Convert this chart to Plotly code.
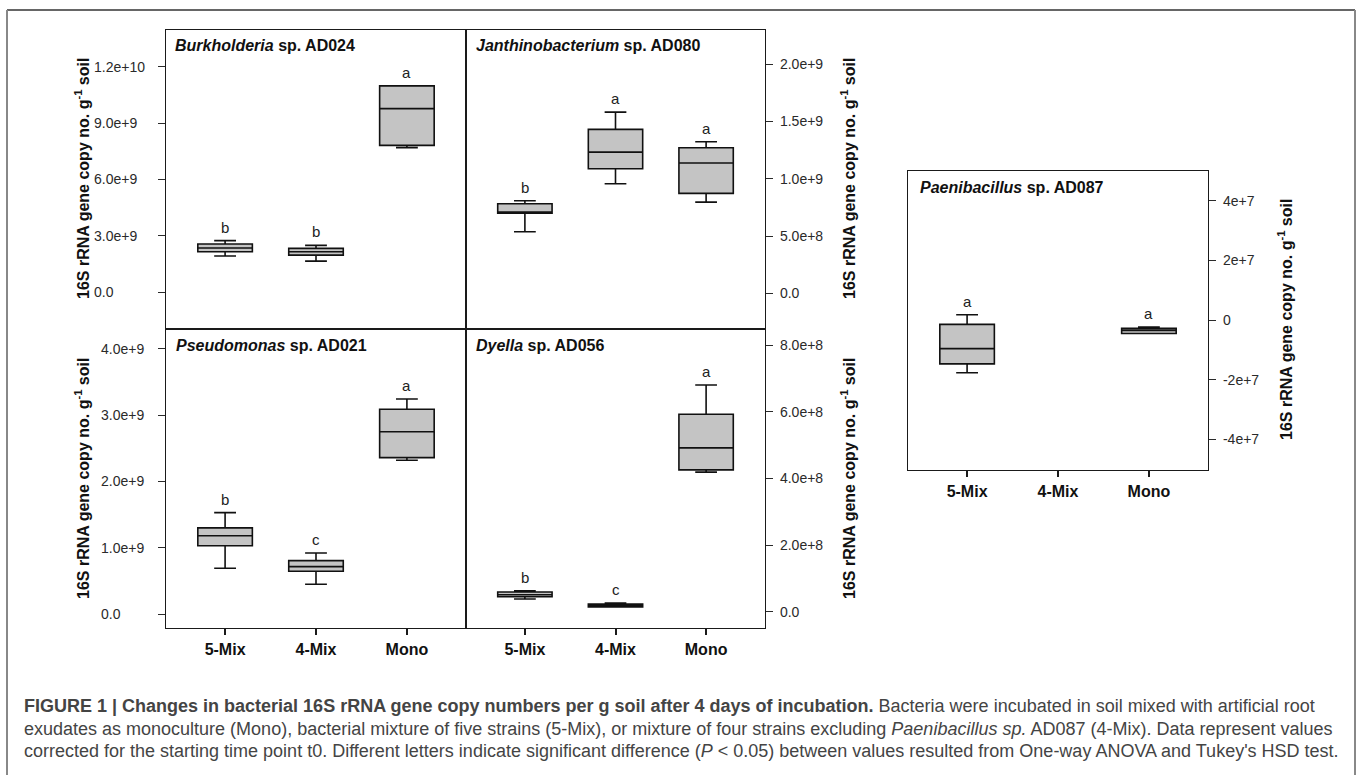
import plotly.graph_objects as go

# ---------------- data ----------------
cats = ["5-Mix", "4-Mix", "Mono"]

burk_lo = [1.92e9, 1.65e9, 7.70e9]
burk_q1 = [2.15e9, 1.97e9, 7.82e9]
burk_med = [2.35e9, 2.15e9, 9.78e9]
burk_q3 = [2.56e9, 2.33e9, 1.099e10]
burk_hi = [2.74e9, 2.49e9, 1.099e10]
burk_letters = ["b", "b", "a"]

jan_lo = [5.37e8, 9.56e8, 7.96e8]
jan_q1 = [6.98e8, 1.087e9, 8.72e8]
jan_med = [7.09e8, 1.232e9, 1.137e9]
jan_q3 = [7.81e8, 1.43e9, 1.27e9]
jan_hi = [8.08e8, 1.581e9, 1.322e9]
jan_letters = ["b", "a", "a"]

pse_lo = [6.9e8, 4.5e8, 2.32e9]
pse_q1 = [1.03e9, 6.45e8, 2.36e9]
pse_med = [1.18e9, 7.15e8, 2.75e9]
pse_q3 = [1.30e9, 8.05e8, 3.09e9]
pse_hi = [1.53e9, 9.2e8, 3.245e9]
pse_letters = ["b", "c", "a"]

dye_lo = [3.8e7, 1.4e7, 4.19e8]
dye_q1 = [4.5e7, 1.4e7, 4.26e8]
dye_med = [5.1e7, 1.9e7, 4.92e8]
dye_q3 = [5.9e7, 2.3e7, 5.93e8]
dye_hi = [6.3e7, 2.6e7, 6.81e8]
dye_letters = ["b", "c", "a"]

pae_cats = ["5-Mix", "Mono"]
pae_lo = [-1.77e7, -4.5e6]
pae_q1 = [-1.47e7, -4.5e6]
pae_med = [-9.6e6, -3.45e6]
pae_q3 = [-1.44e6, -2.8e6]
pae_hi = [1.78e6, -2.35e6]
pae_letters = ["a", "a"]

burk_ticks = [0, 3e9, 6e9, 9e9, 1.2e10]
burk_ticktext = ["0.0", "3.0e+9", "6.0e+9", "9.0e+9", "1.2e+10"]
jan_ticks = [0, 5e8, 1e9, 1.5e9, 2e9]
jan_ticktext = ["0.0", "5.0e+8", "1.0e+9", "1.5e+9", "2.0e+9"]
pse_ticks = [0, 1e9, 2e9, 3e9, 4e9]
pse_ticktext = ["0.0", "1.0e+9", "2.0e+9", "3.0e+9", "4.0e+9"]
dye_ticks = [0, 2e8, 4e8, 6e8, 8e8]
dye_ticktext = ["0.0", "2.0e+8", "4.0e+8", "6.0e+8", "8.0e+8"]
pae_ticks = [-4e7, -2e7, 0, 2e7, 4e7]
pae_ticktext = ["-4e+7", "-2e+7", "0", "2e+7", "4e+7"]

titles = ["<i>Burkholderia</i> sp. AD024", "<i>Janthinobacterium</i> sp. AD080",
          "<i>Pseudomonas</i> sp. AD021", "<i>Dyella</i> sp. AD056",
          "<i>Paenibacillus</i> sp. AD087"]
ytitle = "16S rRNA gene copy no. g<sup>-1</sup> soil"

caption_lines = [
    "<b>FIGURE 1 | Changes in bacterial 16S rRNA gene copy numbers per g soil after 4 days of incubation.</b> "
    "Bacteria were incubated in soil mixed with artificial root",
    "exudates as monoculture (Mono), bacterial mixture of five strains (5-Mix), or mixture of four strains "
    "excluding <i>Paenibacillus sp.</i> AD087 (4-Mix). Data represent values",
    "corrected for the starting time point t0. Different letters indicate significant difference "
    "(<i>P</i> &lt; 0.05) between values resulted from One-way ANOVA and Tukey's HSD test.",
]

# ---------------- layout helpers ----------------
W, H = 1358, 775
def px(x):
    return x / W
def py(y):
    return 1 - y / H

FONT = "Arial, Liberation Sans, Helvetica, sans-serif"
LINE = "#1a1a1a"
TICKC = "#2a2a2a"
XR = [-0.65, 2.65]

fig = go.Figure()

panels = [
    ("", cats, burk_lo, burk_q1, burk_med, burk_q3, burk_hi, burk_letters),
    ("2", cats, jan_lo, jan_q1, jan_med, jan_q3, jan_hi, jan_letters),
    ("3", cats, pse_lo, pse_q1, pse_med, pse_q3, pse_hi, pse_letters),
    ("4", cats, dye_lo, dye_q1, dye_med, dye_q3, dye_hi, dye_letters),
    ("5", pae_cats, pae_lo, pae_q1, pae_med, pae_q3, pae_hi, pae_letters),
]

annotations = []
for sfx, c, lo, q1, med, q3, hi, letters in panels:
    fig.add_trace(go.Box(
        x=c, lowerfence=lo, q1=q1, median=med, q3=q3, upperfence=hi,
        xaxis="x" + sfx, yaxis="y" + sfx,
        width=0.6, whiskerwidth=0.4,
        fillcolor="#c4c4c4", line=dict(color="#111111", width=1.6),
        boxpoints=False, showlegend=False, hoverinfo="skip",
    ))
    for xc, yv, lt in zip(c, hi, letters):
        annotations.append(dict(
            x=xc, y=yv, xref="x" + sfx, yref="y" + sfx, text=lt, showarrow=False,
            yanchor="bottom", yshift=3, font=dict(family=FONT, size=15, color="#222"),
        ))

# invisible traces to carry left-side label axes
fig.add_trace(go.Scatter(x=[None], y=[None], xaxis="x", yaxis="y6", showlegend=False, hoverinfo="skip"))
fig.add_trace(go.Scatter(x=[None], y=[None], xaxis="x3", yaxis="y7", showlegend=False, hoverinfo="skip"))

doms = {
    "": ([166, 466], [30, 329]),
    "2": ([466, 765], [30, 329]),
    "3": ([166, 466], [329, 628]),
    "4": ([466, 765], [329, 628]),
    "5": ([908, 1208], [171, 470]),
}
yranges = {
    "": [-1.97e9, 1.397e10],
    "2": [-3.11e8, 2.297e9],
    "3": [-2.11e8, 4.30e9],
    "4": [-4.9e7, 8.49e8],
    "5": [-5.03e7, 5.0e7],
}
yticks = {"": (burk_ticks, burk_ticktext), "2": (jan_ticks, jan_ticktext),
          "3": (pse_ticks, pse_ticktext), "4": (dye_ticks, dye_ticktext),
          "5": (pae_ticks, pae_ticktext)}

lay = {}
for sfx, (xd, yd) in doms.items():
    showx = sfx in ("3", "4", "5")
    lay["xaxis" + sfx] = dict(
        domain=[px(xd[0]), px(xd[1])], anchor="y" + sfx,
        type="category", categoryorder="array", categoryarray=cats, range=XR,
        showline=True, mirror=True, linecolor=LINE, linewidth=1.3,
        showgrid=False, zeroline=False, fixedrange=True,
        ticks="outside" if showx else "", ticklen=6, tickwidth=1.5, tickcolor=LINE,
        showticklabels=showx, ticklabelstandoff=1,
        tickfont=dict(family=FONT, size=16, color="#111", weight="bold"),
    )
    right = sfx in ("2", "4", "5")
    tv, tt = yticks[sfx]
    lay["yaxis" + sfx] = dict(
        domain=[py(yd[1]), py(yd[0])], anchor="x" + sfx, side="right" if right else "left",
        range=yranges[sfx], showline=True, mirror=True, linecolor=LINE, linewidth=1.3,
        showgrid=False, zeroline=False, fixedrange=True,
        tickvals=tv, ticktext=tt, ticks="outside", ticklen=7, tickwidth=1.2, tickcolor=TICKC,
        showticklabels=right, ticklabelstandoff=4,
        tickfont=dict(family=FONT, size=14, color="#2a2a2a"),
    )

# left-aligned label axes for the two left panels
for new, base, left_x in (("6", "", 93), ("7", "3", 100)):
    tv, tt = yticks[base]
    lay["yaxis" + new] = dict(
        overlaying="y" + base, anchor="free", position=px(left_x), side="right",
        range=yranges[base], showline=False, showgrid=False, zeroline=False, fixedrange=True,
        tickvals=tv, ticktext=tt, ticks="", ticklen=0, ticklabelstandoff=0,
        tickfont=dict(family=FONT, size=14, color="#2a2a2a"),
    )

# panel titles
title_pos = [(173, 46), (474, 46), (174, 345), (474, 345), (918, 187)]
for t, (tx, ty) in zip(titles, title_pos):
    annotations.append(dict(
        x=px(tx), y=py(ty), xref="paper", yref="paper", text="<b>" + t + "</b>",
        showarrow=False, xanchor="left", yanchor="middle",
        font=dict(family=FONT, size=16, color="#111"),
    ))

# y-axis titles
for tx, ty in ((82, 179), (82, 479), (848, 179), (848, 479), (1285, 320)):
    annotations.append(dict(
        x=px(tx), y=py(ty), xref="paper", yref="paper", text="<b>" + ytitle + "</b>",
        showarrow=False, textangle=-90, xanchor="center", yanchor="middle",
        font=dict(family=FONT, size=16, color="#111"),
    ))

# caption
for line, ly in zip(caption_lines, (706, 729, 751)):
    annotations.append(dict(
        x=px(22), y=py(ly), xref="paper", yref="paper", text=line,
        showarrow=False, xanchor="left", yanchor="middle", align="left",
        font=dict(family=FONT, size=18, color="#444"),
    ))

shapes = [
    dict(type="line", xref="paper", yref="paper", x0=px(7), x1=px(1355), y0=py(10), y1=py(10),
         line=dict(color="#333", width=1.5)),
    dict(type="line", xref="paper", yref="paper", x0=px(7), x1=px(7), y0=py(10), y1=0,
         line=dict(color="#888", width=2)),
    dict(type="line", xref="paper", yref="paper", x0=px(1355), x1=px(1355), y0=py(10), y1=0,
         line=dict(color="#888", width=2)),
]

fig.update_layout(
    width=W, height=H, margin=dict(l=0, r=0, t=0, b=0),
    paper_bgcolor="white", plot_bgcolor="white",
    annotations=annotations, shapes=shapes, showlegend=False,
    font=dict(family=FONT),
    **lay,
)

fig.write_html("out.html")
